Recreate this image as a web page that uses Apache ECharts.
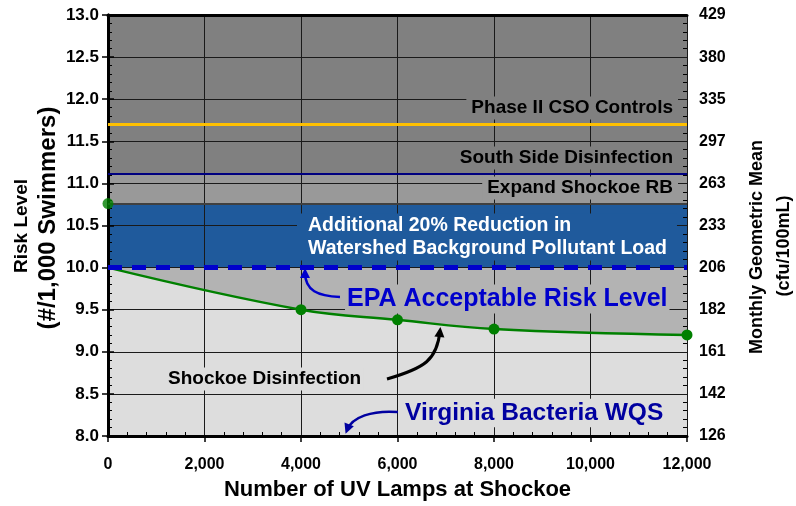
<!DOCTYPE html>
<html>
<head>
<meta charset="utf-8">
<script src="https://cdn.jsdelivr.net/npm/echarts@6/dist/echarts.min.js"></script>
<style>
html,body{margin:0;background:#fff}
#chart{width:796px;height:506px}
</style>
</head>
<body>
<div id="chart"></div>
<script>
// data
var lamps = [0, 4000, 6000, 8000, 12000];
var riskShockoe = [10.0, 9.5, 9.38, 9.27, 9.2];
var showMarker = [false, true, true, true, true];
var currentPoint = [[0, 10.76]];
var geoMeanLabels = ['126', '142', '161', '182', '206', '233', '263', '297', '335', '380', '429'];
var epaLevel = 10.0;
var reductionLevel = 10.76;
var southSideLevel = 11.12;
var phase2Level = 11.7;

var FONT = '"Liberation Sans", Arial, sans-serif';
var chart = echarts.init(document.getElementById('chart'));

var curveData = lamps.map(function (x, i) {
    return { value: [x, riskShockoe[i]], symbol: showMarker[i] ? 'circle' : 'none' };
});

function arrow(x1, y1, c1x, c1y, c2x, c2y, x2, y2, color, width) {
    var ang = Math.atan2(y2 - c2y, x2 - c2x);
    var len = 10, half = 5;
    var tipX = x2 + Math.cos(ang) * 4, tipY = y2 + Math.sin(ang) * 4;
    var bx = tipX - Math.cos(ang) * len, by = tipY - Math.sin(ang) * len;
    var px = -Math.sin(ang) * half, py = Math.cos(ang) * half;
    return [{
        type: 'bezierCurve', z: 20,
        shape: { x1: x1, y1: y1, cpx1: c1x, cpy1: c1y, cpx2: c2x, cpy2: c2y, x2: x2, y2: y2 },
        style: { stroke: color, lineWidth: width, fill: null }
    }, {
        type: 'polygon', z: 20,
        shape: { points: [[tipX, tipY], [bx + px, by + py], [bx - px, by - py]] },
        style: { fill: color }
    }];
}

function label(text, x, y, align, color, size, bg, padding) {
    return {
        type: 'text', z: 15, x: x, y: y,
        style: {
            text: text, fill: color, font: 'bold ' + size + 'px ' + FONT,
            align: align, verticalAlign: 'middle', lineHeight: size + 4,
            backgroundColor: bg, padding: padding
        }
    };
}

function vtitle(text, x, y, size) {
    return {
        type: 'text', z: 15, x: x, y: y, rotation: Math.PI / 2,
        style: {
            text: text, fill: '#000', font: 'bold ' + size + 'px ' + FONT,
            align: 'center', verticalAlign: 'middle'
        }
    };
}

var graphics = [
    label('Phase II CSO Controls', 678, 108, 'right', '#000', 19, '#808080', [0, 5]),
    label('South Side Disinfection', 678, 158, 'right', '#000', 19, '#808080', [0, 5]),
    label('Expand Shockoe RB', 678, 188, 'right', '#000', 19, '#999999', [0, 5]),
    label('Additional 20% Reduction in\nWatershed Background Pollutant Load', 297, 237, 'left', '#fff', 19.5, '#1f5a9c', [0, 10, 0, 11]),
    label('EPA Acceptable Risk Level', 345, 299, 'left', '#0000cc', 25, '#b3b3b3', [0, 2]),
    label('Shockoe Disinfection', 166, 379, 'left', '#000', 19, '#dddddd', [0, 2]),
    label('Virginia Bacteria WQS', 403, 413, 'left', '#0000a0', 24.5, '#dddddd', [0, 2]),
    vtitle('Risk Level', 22, 226, 19),
    vtitle('(#/1,000 Swimmers)', 48, 218, 24),
    vtitle('Monthly Geometric Mean', 757, 247, 18),
    vtitle('(cfu/100mL)', 784, 246, 18)
].concat(
    arrow(340, 297, 318, 296, 305, 291, 305, 272, '#0000cc', 2.5),
    arrow(387, 379, 425, 368, 437, 360, 440, 331, '#000', 3),
    arrow(398, 412, 372, 410, 352, 417, 347, 430, '#0000a0', 2.5)
);

var option = {
    animation: false,
    textStyle: { fontFamily: FONT },
    grid: {
        left: 108, right: 109, top: 15, bottom: 70,
        containLabel: false, outerBoundsMode: 'none',
        show: true, backgroundColor: '#b3b3b3', borderWidth: 0
    },
    xAxis: [{
        type: 'value', min: 0, max: 12000, interval: 2000, position: 'bottom', z: 3,
        name: 'Number of UV Lamps at Shockoe', nameLocation: 'middle', nameGap: 43,
        nameTextStyle: { fontSize: 22, fontWeight: 'bold', color: '#000' },
        axisLine: { lineStyle: { color: '#000', width: 3 } },
        axisTick: { length: 6, lineStyle: { color: '#000', width: 1.5 } },
        axisLabel: {
            margin: 21, color: '#000', fontSize: 16, fontWeight: 'bold',
            formatter: function (v) { return v.toLocaleString('en-US'); }
        },
        splitLine: { show: true, lineStyle: { color: '#1a1a1a', width: 1 } }
    }, {
        type: 'value', min: 0, max: 12000, position: 'top', z: 3,
        axisLine: { lineStyle: { color: '#000', width: 3 } },
        axisTick: { show: false }, axisLabel: { show: false }, splitLine: { show: false }
    }, {
        type: 'value', min: 0, max: 12000, interval: 2000, position: 'bottom', z: 3,
        axisLine: { show: false },
        axisTick: { show: false, inside: true },
        minorTick: { show: true, splitNumber: 5, length: 4, lineStyle: { color: '#000', width: 1 } },
        axisLabel: { show: false }, splitLine: { show: false }
    }],
    yAxis: [{
        type: 'value', min: 8, max: 13, interval: 0.5, position: 'left', z: 3,
        axisLine: { show: true, lineStyle: { color: '#000', width: 3 } },
        axisTick: { show: true, length: 6, lineStyle: { color: '#000', width: 1.5 } },
        axisLabel: {
            margin: 9, color: '#000', fontSize: 17, fontWeight: 'bold',
            formatter: function (v) { return v.toFixed(1); }
        },
        splitLine: { show: true, lineStyle: { color: '#1a1a1a', width: 1 } }
    }, {
        type: 'value', min: 8, max: 13, interval: 0.5, position: 'right', z: 3,
        axisLine: { show: true, lineStyle: { color: '#000', width: 3 } },
        axisTick: { show: true, length: 6, lineStyle: { color: '#000', width: 1.5 } },
        axisLabel: {
            margin: 12, color: '#000', fontSize: 16, fontWeight: 'bold',
            formatter: function (v) { return geoMeanLabels[Math.round((v - 8) / 0.5)]; }
        },
        splitLine: { show: false }
    }, {
        type: 'value', min: 8, max: 13, interval: 0.5, position: 'left', z: 3,
        axisLine: { show: false }, axisTick: { show: false, inside: true },
        minorTick: { show: true, splitNumber: 5, length: 4, lineStyle: { color: '#000', width: 1 } },
        axisLabel: { show: false }, splitLine: { show: false }
    }, {
        type: 'value', min: 8, max: 13, interval: 0.5, position: 'right', z: 3,
        axisLine: { show: false }, axisTick: { show: false, inside: true },
        minorTick: { show: true, splitNumber: 5, length: 4, lineStyle: { color: '#000', width: 1 } },
        axisLabel: { show: false }, splitLine: { show: false }
    }],
    series: [{
        // light fill under the Shockoe curve + background bands
        type: 'line', z: 1, smooth: 0.4, symbol: 'none',
        data: curveData,
        lineStyle: { width: 0 },
        areaStyle: { color: '#dddddd', opacity: 1, origin: 'start' },
        markArea: {
            silent: true,
            data: [
                [{ yAxis: epaLevel, itemStyle: { color: '#1f5a9c' } }, { yAxis: reductionLevel }],
                [{ yAxis: reductionLevel, itemStyle: { color: '#999999' } }, { yAxis: southSideLevel }],
                [{ yAxis: southSideLevel, itemStyle: { color: '#808080' } }, { yAxis: 13 }]
            ]
        }
    }, {
        type: 'line', z: 4, smooth: 0.4,
        data: curveData,
        symbolSize: 11,
        itemStyle: { color: '#008000' },
        lineStyle: { color: '#008000', width: 2.5 },
        markLine: {
            silent: true, symbol: 'none', label: { show: false },
            data: [
                { yAxis: phase2Level, lineStyle: { color: '#ffc000', width: 3, type: 'solid' } },
                { yAxis: southSideLevel, lineStyle: { color: '#000080', width: 2, type: 'solid' } },
                { yAxis: reductionLevel, lineStyle: { color: '#404040', width: 2, type: 'solid' } },
                { yAxis: epaLevel, lineStyle: { color: '#0000cc', width: 5, type: [14, 10] } }
            ]
        }
    }, {
        type: 'scatter', z: 6, data: currentPoint, symbolSize: 11,
        itemStyle: { color: '#008000' }
    }],
    graphic: graphics
};
chart.setOption(option);
</script>
</body>
</html>
